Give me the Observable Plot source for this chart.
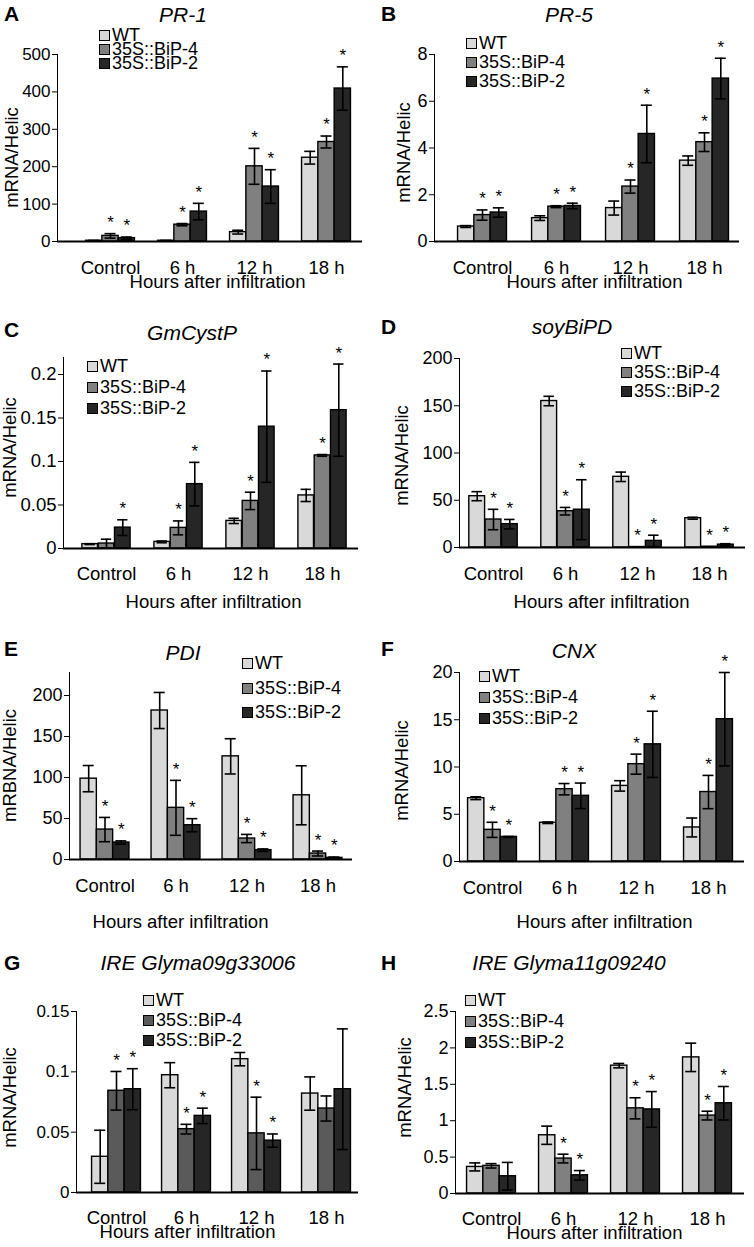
<!DOCTYPE html>
<html><head><meta charset="utf-8">
<script src="https://cdn.jsdelivr.net/npm/d3@7"></script>
<script src="https://cdn.jsdelivr.net/npm/@observablehq/plot@0.6"></script>
<style>
body{margin:0;background:#fff;}
#fig{position:relative;width:754px;height:1247px;overflow:hidden;background:#fff;font-family:"Liberation Sans",Arial,sans-serif;color:#000;}
.panel{position:absolute;width:377px;}
.panel svg{position:absolute;left:0;top:0;overflow:visible;}
.lbl{position:absolute;white-space:nowrap;line-height:1;}
.letter{font-weight:bold;font-size:21px;transform:translate(0,-50%);}
.title{font-style:italic;font-size:21px;transform:translate(-50%,-50%);}
.legrow{position:absolute;display:flex;align-items:center;font-size:18px;line-height:1;transform:translate(0,-50%);white-space:nowrap;}
.sq{display:inline-block;width:9px;height:9px;border:1px solid #000;margin-right:2px;}
</style></head><body><div id="fig"></div>
<script>
const groups = ["Control", "6 h", "12 h", "18 h"];
const seriesNames = ["WT", "35S::BiP-4", "35S::BiP-2"];

// A PR-1
const pr1Ticks = [0, 100, 200, 300, 400, 500];
const pr1WT = [2, 2, 25, 224],      pr1WTErr = [1, 1, 5, 17];
const pr1B4 = [15, 45, 201, 266],   pr1B4Err = [6, 3, 48, 16];
const pr1B2 = [9, 80, 147, 409],    pr1B2Err = [3, 22, 45, 58];
const pr1SigB4 = [1, 1, 1, 1],      pr1SigB2 = [1, 1, 1, 1];

// B PR-5
const pr5Ticks = [0, 2, 4, 6, 8];
const pr5WT = [0.64, 1.0, 1.43, 3.46], pr5WTErr = [0.04, 0.1, 0.3, 0.2];
const pr5B4 = [1.13, 1.49, 2.35, 4.25], pr5B4Err = [0.22, 0.04, 0.28, 0.4];
const pr5B2 = [1.24, 1.52, 4.6, 6.97],  pr5B2Err = [0.2, 0.12, 1.23, 0.87];
const pr5SigB4 = [1, 1, 1, 1],          pr5SigB2 = [1, 1, 1, 1];

// C GmCystP
const cysTicks = [0, 0.05, 0.1, 0.15, 0.2];
const cysWT = [0.005, 0.0076, 0.0317, 0.061], cysWTErr = [0.0005, 0.001, 0.003, 0.007];
const cysB4 = [0.0057, 0.0237, 0.0547, 0.107], cysB4Err = [0.005, 0.008, 0.01, 0.001];
const cysB2 = [0.024, 0.074, 0.14, 0.159],    cysB2Err = [0.009, 0.025, 0.064, 0.053];
const cysSigB4 = [0, 1, 1, 1],                cysSigB2 = [1, 1, 1, 1];

// D soyBiPD
const bipTicks = [0, 50, 100, 150, 200];
const bipWT = [54.3, 155, 74.8, 31], bipWTErr = [4.8, 5, 5, 1];
const bipB4 = [29.6, 38.4, 0.5, 0.8], bipB4Err = [10.8, 4, 0, 0];
const bipB2 = [24.7, 40, 7, 3],      bipB2Err = [5, 31.7, 6, 1];
const bipSigB4 = [1, 1, 1, 1],       bipSigB2 = [1, 1, 1, 1];

// E PDI
const pdiTicks = [0, 50, 100, 150, 200];
const pdiWT = [98.6, 181.7, 125.8, 78.3], pdiWTErr = [16, 22, 21.5, 36];
const pdiB4 = [36.5, 63, 25.6, 7.3],      pdiB4Err = [14.8, 33.5, 5, 3];
const pdiB2 = [20.7, 41.8, 11.4, 2],      pdiB2Err = [2, 8, 1.5, 1];
const pdiSigB4 = [1, 1, 1, 1],            pdiSigB2 = [1, 1, 1, 1];

// F CNX
const cnxTicks = [0, 5, 10, 15, 20];
const cnxWT = [6.7, 4.1, 8.0, 3.6],     cnxWTErr = [0.15, 0.08, 0.55, 1.0];
const cnxB4 = [3.35, 7.65, 10.3, 7.35], cnxB4Err = [0.8, 0.6, 1.06, 1.76];
const cnxB2 = [2.6, 6.95, 12.4, 15.06], cnxB2Err = [0.05, 1.35, 3.5, 4.94];
const cnxSigB4 = [1, 1, 1, 1],          cnxSigB2 = [1, 1, 1, 1];

// G IRE Glyma09g33006
const ireGTicks = [0, 0.05, 0.1, 0.15];
const ireGWT = [0.0296, 0.0972, 0.1105, 0.082], ireGWTErr = [0.022, 0.0104, 0.0055, 0.0138];
const ireGB4 = [0.0843, 0.0525, 0.049, 0.0696], ireGB4Err = [0.016, 0.004, 0.03, 0.0104];
const ireGB2 = [0.0856, 0.0635, 0.043, 0.0856], ireGB2Err = [0.017, 0.0064, 0.0055, 0.05];
const ireGSigB4 = [1, 1, 1, 0],                 ireGSigB2 = [1, 1, 1, 0];

// H IRE Glyma11g09240
const ireHTicks = [0, 0.5, 1, 1.5, 2, 2.5];
const ireHWT = [0.365, 0.8, 1.756, 1.87], ireHWTErr = [0.055, 0.125, 0.03, 0.195];
const ireHB4 = [0.38, 0.48, 1.17, 1.07],  ireHB4Err = [0.03, 0.06, 0.145, 0.06];
const ireHB2 = [0.237, 0.25, 1.155, 1.24], ireHB2Err = [0.19, 0.065, 0.245, 0.23];
const ireHSigB4 = [0, 1, 1, 1],            ireHSigB2 = [0, 1, 1, 1];

const noSig = [0, 0, 0, 0];
const grays = ["#d9d9d9", "#808080", "#262626"];
const graysG = ["#d9d9d9", "#5a5a5a", "#262626"];

const panels = [
  {letter: "A", title: "PR-1", ylabel: "mRNA/Helic", ticks: pr1Ticks, tfs: 17,
   vals: [pr1WT, pr1B4, pr1B2], errs: [pr1WTErr, pr1B4Err, pr1B2Err], sigs: [noSig, pr1SigB4, pr1SigB2], colors: grays,
   left: 0, top: 0, h: 300, axisX: 57, y0: 241, tickPix: 54, lineTop: 54, baseEnd: 362, c0: 110, step: 72,
   letterPos: [4, 13], titlePos: [183, 14], leg: [99, [35, 49, 63]], yl: [12, 157], xt: [217, 282], xlabY: 267},
  {letter: "B", title: "PR-5", ylabel: "mRNA/Helic", ticks: pr5Ticks, tfs: 18,
   vals: [pr5WT, pr5B4, pr5B2], errs: [pr5WTErr, pr5B4Err, pr5B2Err], sigs: [noSig, pr5SigB4, pr5SigB2], colors: grays,
   left: 377, top: 0, h: 300, axisX: 434, y0: 241, tickPix: 54, lineTop: 54, baseEnd: 739, c0: 482, step: 74,
   letterPos: [381, 13], titlePos: [569, 14], leg: [466, [43, 62, 81]], yl: [404, 152], xt: [594, 282], xlabY: 267},
  {letter: "C", title: "GmCystP", ylabel: "mRNA/Helic", ticks: cysTicks, tfs: 18.5,
   vals: [cysWT, cysB4, cysB2], errs: [cysWTErr, cysB4Err, cysB2Err], sigs: [noSig, cysSigB4, cysSigB2], colors: grays,
   left: 0, top: 300, h: 320, axisX: 63, y0: 548, tickPix: 374, lineTop: 357, baseEnd: 358, c0: 105, step: 72.7,
   letterPos: [4, 329], titlePos: [192, 332], leg: [87, [366, 387, 408]], yl: [10, 447], xt: [213, 602], xlabY: 573},
  {letter: "D", title: "soyBiPD", ylabel: "mRNA/Helic", ticks: bipTicks, tfs: 18,
   vals: [bipWT, bipB4, bipB2], errs: [bipWTErr, bipB4Err, bipB2Err], sigs: [noSig, bipSigB4, bipSigB2], colors: grays,
   left: 377, top: 300, h: 320, axisX: 459, y0: 547, tickPix: 358, lineTop: 358, baseEnd: 745, c0: 492, step: 72.5,
   letterPos: [381, 326], titlePos: [572, 326], leg: [621, [353, 372, 391]], yl: [402, 455], xt: [601, 602], xlabY: 573},
  {letter: "E", title: "PDI", ylabel: "mRBNA/Helic", ticks: pdiTicks, tfs: 18,
   vals: [pdiWT, pdiB4, pdiB2], errs: [pdiWTErr, pdiB4Err, pdiB2Err], sigs: [noSig, pdiSigB4, pdiSigB2], colors: grays,
   left: 0, top: 620, h: 320, axisX: 69, y0: 859, tickPix: 695, lineTop: 672, baseEnd: 352, c0: 104, step: 71,
   letterPos: [4, 648], titlePos: [183, 652], leg: [242, [663, 688, 712]], yl: [10, 765], xt: [180, 922], xlabY: 885},
  {letter: "F", title: "CNX", ylabel: "mRNA/Helic", ticks: cnxTicks, tfs: 18,
   vals: [cnxWT, cnxB4, cnxB2], errs: [cnxWTErr, cnxB4Err, cnxB2Err], sigs: [noSig, cnxSigB4, cnxSigB2], colors: grays,
   left: 377, top: 620, h: 320, axisX: 459, y0: 861, tickPix: 672, lineTop: 672, baseEnd: 744, c0: 492, step: 72,
   letterPos: [381, 648], titlePos: [574, 650], leg: [479, [676, 697, 718]], yl: [402, 770], xt: [604, 922], xlabY: 887},
  {letter: "G", title: "IRE Glyma09g33006", ylabel: "mRNA/Helic", ticks: ireGTicks, tfs: 17,
   vals: [ireGWT, ireGB4, ireGB2], errs: [ireGWTErr, ireGB4Err, ireGB2Err], sigs: [noSig, ireGSigB4, ireGSigB2], colors: graysG,
   left: 0, top: 940, h: 307, axisX: 76, y0: 1192, tickPix: 1011, lineTop: 1011, baseEnd: 358, c0: 116, step: 70,
   letterPos: [4, 962], titlePos: [198, 962], leg: [143, [1000, 1020, 1040]], yl: [10, 1097], xt: [187, 1232], xlabY: 1217},
  {letter: "H", title: "IRE Glyma11g09240", ylabel: "mRNA/Helic", ticks: ireHTicks, tfs: 18,
   vals: [ireHWT, ireHB4, ireHB2], errs: [ireHWTErr, ireHB4Err, ireHB2Err], sigs: [noSig, ireHSigB4, ireHSigB2], colors: grays,
   left: 377, top: 940, h: 307, axisX: 455, y0: 1193, tickPix: 1011, lineTop: 1011, baseEnd: 744, c0: 491, step: 72,
   letterPos: [381, 962], titlePos: [569, 962], leg: [465, [1000, 1021, 1042]], yl: [405, 1087], xt: [594, 1233], xlabY: 1218}
];

const fig = document.getElementById("fig");
const FONT = "'Liberation Sans', Arial, sans-serif";
const barW = 16.3, capHalf = 5.5;

for (const p of panels) {
  const div = document.createElement("div");
  div.className = "panel";
  div.style.left = p.left + "px";
  div.style.top = p.top + "px";
  div.style.height = p.h + "px";
  fig.appendChild(div);

  const tickVal = p.ticks[p.ticks.length - 1];
  const perUnit = (p.y0 - p.tickPix) / tickVal;
  const yMax = (p.y0 - p.lineTop) / perUnit;
  const mL = p.axisX - p.left, mR = p.left + 377 - p.baseEnd;
  const mT = p.lineTop - p.top, mB = p.top + p.h - p.y0;
  const xr = [p.c0 - p.step / 2 - p.left, p.c0 + 3.5 * p.step - p.left];
  const bw = p.step;

  const marks = [];
  for (let s = 0; s < 3; s++) {
    const rows = groups.map((g, i) => ({group: g, series: seriesNames[s], value: p.vals[s][i], err: p.errs[s][i], sig: p.sigs[s][i]}));
    const off = (s - 1) * barW;
    const iL = bw / 2 + off - barW / 2, iR = bw - iL - barW;
    marks.push(Plot.barY(rows, {x: "group", y: "value", fill: p.colors[s], stroke: "#000", strokeWidth: 1.4, insetLeft: iL, insetRight: iR}));
    marks.push(Plot.ruleX(rows, {x: "group", y1: d => d.value - d.err, y2: d => d.value + d.err, dx: off, stroke: "#000", strokeWidth: 1.6}));
    const cL = bw / 2 + off - capHalf, cR = bw - cL - 2 * capHalf;
    marks.push(Plot.tickY(rows, {x: "group", y: d => d.value + d.err, insetLeft: cL, insetRight: cR, stroke: "#000", strokeWidth: 1.6}));
    marks.push(Plot.tickY(rows, {x: "group", y: d => d.value - d.err, insetLeft: cL, insetRight: cR, stroke: "#000", strokeWidth: 1.6}));
    marks.push(Plot.text(rows.filter(d => d.sig), {x: "group", y: d => d.value + d.err, text: () => "*", dx: off, dy: -11, fontSize: 17}));
  }
  marks.push(Plot.ruleY([0], {stroke: "#000", strokeWidth: 2}));
  marks.push(Plot.text([p.ylabel], {frameAnchor: "top-left", textAnchor: "middle", lineAnchor: "middle", rotate: -90, dx: p.yl[0] - p.axisX, dy: p.yl[1] - p.lineTop, fontSize: 18.5}));
  marks.push(Plot.text(["Hours after infiltration"], {frameAnchor: "top-left", textAnchor: "middle", lineAnchor: "middle", dx: p.xt[0] - p.axisX, dy: p.xt[1] - p.lineTop, fontSize: 18.5}));

  const chart = Plot.plot({
    width: 377, height: p.h,
    marginLeft: mL, marginRight: mR, marginTop: mT, marginBottom: mB,
    style: {fontFamily: FONT, fontSize: p.tfs + "px", color: "#000", background: "transparent", overflow: "visible"},
    x: {type: "band", domain: groups, range: xr, padding: 0, tickSize: 0, tickPadding: p.xlabY - p.y0 - 7, label: null},
    y: {domain: [0, yMax], ticks: p.ticks, tickSize: 5, tickPadding: 2, line: true, label: null, tickFormat: d => `${d}`},
    marks
  });
  chart.querySelectorAll('g[aria-label="x-axis tick label"] text').forEach(t => t.setAttribute("font-size", "18.5"));
  chart.querySelectorAll('g[aria-label="x-axis tick label"]').forEach(g => g.setAttribute("font-size", "18.5"));
  div.appendChild(chart);

  const L = document.createElement("div");
  L.className = "lbl letter"; L.textContent = p.letter;
  L.style.left = (p.letterPos[0] - p.left) + "px"; L.style.top = (p.letterPos[1] - p.top) + "px";
  div.appendChild(L);
  const T = document.createElement("div");
  T.className = "lbl title"; T.textContent = p.title;
  T.style.left = (p.titlePos[0] - p.left) + "px"; T.style.top = (p.titlePos[1] - p.top) + "px";
  div.appendChild(T);
  for (let s = 0; s < 3; s++) {
    const r = document.createElement("div");
    r.className = "legrow";
    r.style.left = (p.leg[0] - p.left) + "px";
    r.style.top = (p.leg[1][s] - p.top) + "px";
    const sq = document.createElement("span");
    sq.className = "sq"; sq.style.background = p.colors[s];
    r.appendChild(sq);
    r.appendChild(document.createTextNode(seriesNames[s]));
    div.appendChild(r);
  }
}
</script></body></html>
